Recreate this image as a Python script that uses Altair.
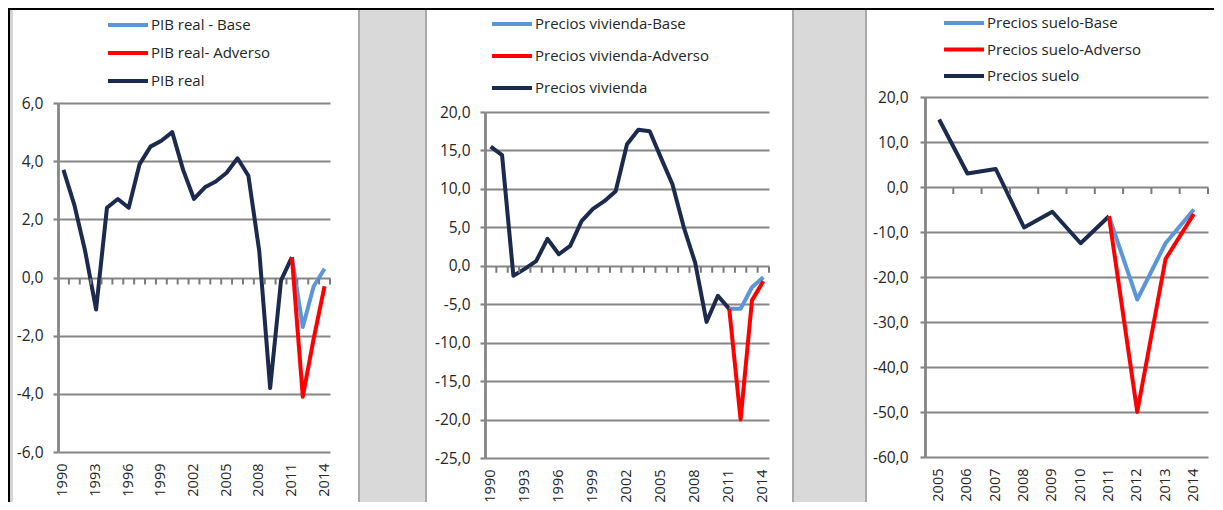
import altair as alt
import pandas as pd

# ---------------- data ----------------
all_years_long = list(range(1990, 2015))
hist_years_long = list(range(1990, 2012))
scen_years = [2011, 2012, 2013, 2014]
long_tick_labels = [1990, 1993, 1996, 1999, 2002, 2005, 2008, 2011, 2014]

pib_names = ["PIB real - Base", "PIB real- Adverso", "PIB real"]
pib_hist = [3.7, 2.5, 0.9, -1.1, 2.4, 2.7, 2.4, 3.9, 4.5, 4.7, 5.0,
            3.7, 2.7, 3.1, 3.3, 3.6, 4.1, 3.5, 0.9, -3.8, -0.1, 0.7]
pib_base = [0.7, -1.7, -0.3, 0.3]
pib_adv = [0.7, -4.1, -2.1, -0.3]
pib_ticks = [-6, -4, -2, 0, 2, 4, 6]

viv_names = ["Precios vivienda-Base", "Precios vivienda-Adverso", "Precios vivienda"]
viv_hist = [15.5, 14.4, -1.3, -0.4, 0.6, 3.5, 1.5, 2.6, 5.8, 7.4, 8.4,
            9.7, 15.8, 17.7, 17.5, 14.0, 10.6, 5.0, 0.4, -7.3, -3.9, -5.6]
viv_base = [-5.6, -5.6, -2.8, -1.5]
viv_adv = [-5.6, -20.0, -4.5, -2.0]
viv_ticks = [-25, -20, -15, -10, -5, 0, 5, 10, 15, 20]

suelo_all_years = list(range(2005, 2015))
suelo_hist_years = list(range(2005, 2012))
suelo_names = ["Precios suelo-Base", "Precios suelo-Adverso", "Precios suelo"]
suelo_hist = [15.0, 3.0, 4.0, -9.0, -5.5, -12.5, -6.5]
suelo_base = [-6.5, -25.0, -12.5, -5.0]
suelo_adv = [-6.5, -50.0, -16.0, -6.0]
suelo_ticks = [-60, -50, -40, -30, -20, -10, 0, 10, 20]

# ---------------- style ----------------
NAVY = "#1C2A4E"
BLUE = "#5B96D8"
RED = "#FF0000"
GRID = "#868686"
TICK = "#7A7A7A"
SEP = "#D9D9D9"
SEP_EDGE = "#A9A9A9"
TXT = "#262626"
FONT = "Open Sans"
H = 361
YLABEL_EXPR = ("replace(replace(format(datum.value, '.1f'), '.', ','), "
               "'\u2212', '-')")


def deco(x, x2, y, y2, color, opacity=1.0):
    return alt.Chart(pd.DataFrame({"d": [0]})).mark_rect(
        color=color, opacity=opacity, clip=False
    ).encode(x=alt.value(x), x2=alt.value(x2), y=alt.value(y), y2=alt.value(y2))


def panel(tag, names, hist_years, hist, base, adv, all_years, xlabels, yticks,
          yrange, width, x_off, ylab_pad, legend_xy, row_pad, decos):
    dom = [yticks[0], yticks[-1]]
    xscale = alt.Scale(domain=all_years, paddingInner=0, paddingOuter=0)
    yscale = alt.Scale(domain=dom, range=yrange, nice=False, zero=False)
    xaxis = alt.Axis(values=xlabels, labelAngle=270, domain=False, ticks=False,
                     grid=False, labelPadding=11, offset=x_off, title=None,
                     labelFont=FONT, labelFontSize=14.5, labelColor=TXT,
                     labelAlign="right", labelBaseline="middle")
    yaxis = alt.Axis(values=yticks, title=None, grid=True, gridColor=GRID,
                     gridWidth=2.2, domainColor=GRID, domainWidth=2.8,
                     tickColor=GRID, tickWidth=2.2, tickSize=5,
                     labelPadding=ylab_pad, labelFont=FONT, labelFontSize=15.5,
                     labelColor=TXT, labelOverlap=False,
                     labelExpr=YLABEL_EXPR)
    cscale = alt.Scale(domain=names, range=[BLUE, RED, NAVY])
    legend = alt.Legend(title=None, orient="none", legendX=legend_xy[0],
                        legendY=legend_xy[1], symbolType="M-2,0H2",
                        symbolSize=400, symbolStrokeWidth=4,
                        labelFont=FONT, labelFontSize=15, labelColor=TXT,
                        labelOffset=11, labelLimit=0, rowPadding=row_pad,
                        padding=0, direction="vertical")

    def line_layer(years, vals, name):
        df = pd.DataFrame({"year": years, "value": vals, "serie": name})
        return alt.Chart(df).mark_line(strokeWidth=4, strokeJoin="round").encode(
            x=alt.X("year:O", scale=xscale, axis=xaxis),
            y=alt.Y("value:Q", scale=yscale, axis=yaxis),
            color=alt.Color("serie:N", scale=cscale, legend=legend),
        )

    # small category ticks hanging below the zero line (Excel style)
    tick_df = pd.DataFrame({"year": all_years, "value": [0] * len(all_years),
                            "panel": tag})
    zero_ticks = alt.Chart(tick_df).mark_rule(
        color=TICK, strokeWidth=2, yOffset=1, y2Offset=7
    ).encode(
        x=alt.X("year:O", scale=xscale, axis=xaxis, bandPosition=1),
        y=alt.Y("value:Q", scale=yscale, axis=yaxis),
        y2=alt.Y2("value:Q"),
    )

    layers = decos + [
        line_layer(hist_years, hist, names[2]),
        line_layer(scen_years, base, names[0]),
        line_layer(scen_years, adv, names[1]),
        zero_ticks,
    ]
    return alt.layer(*layers).properties(width=width, height=H)


# panel 1: view origin page (58, 97)
d1 = [
    deco(-50, 369, -89, 405, "white", 0.0),
    deco(300, 369, -87, 405, SEP),
    deco(300, 302, -87, 405, SEP_EDGE),
    deco(367, 369, -87, 405, SEP_EDGE),
    deco(-50, 369, -89, -87, "black"),
    deco(-50, -48, -89, 405, "black"),
    deco(-48, -45, -87, 405, "#D4D4D4"),
]
p1 = panel("pib", pib_names, hist_years_long, pib_hist, pib_base, pib_adv,
           all_years_long, long_tick_labels, pib_ticks, [355, 6], 272, -6, 10,
           (58, -84), 8, d1)

# panel 2: view origin page (485, 97)
d2 = [
    deco(-58, 382, -89, 405, "white", 0.0),
    deco(307, 382, -87, 405, SEP),
    deco(307, 309, -87, 405, SEP_EDGE),
    deco(380, 382, -87, 405, SEP_EDGE),
    deco(-58, 382, -89, -87, "black"),
]
p2 = panel("viv", viv_names, hist_years_long, viv_hist, viv_base, viv_adv,
           all_years_long, long_tick_labels, viv_ticks, [361, 15], 284, 0, 10,
           (15, -85), 12, d2)

# panel 3: view origin page (925, 97)
d3 = [
    deco(-58, 289, -89, 405, "white", 0.0),
    deco(-58, 289, -89, -87, "black"),
]
p3 = panel("suelo", suelo_names, suelo_hist_years, suelo_hist, suelo_base,
           suelo_adv, suelo_all_years, suelo_all_years, suelo_ticks, [360, 0],
           283, -1, 12, (27, -86), 6.5, d3)

chart = alt.hconcat(p1, p2, p3, spacing=0).resolve_scale(
    color="independent"
).configure(padding=0, background="white").configure_view(stroke=None)

chart.save("out.html", embed_options={"renderer": "svg", "actions": False})
